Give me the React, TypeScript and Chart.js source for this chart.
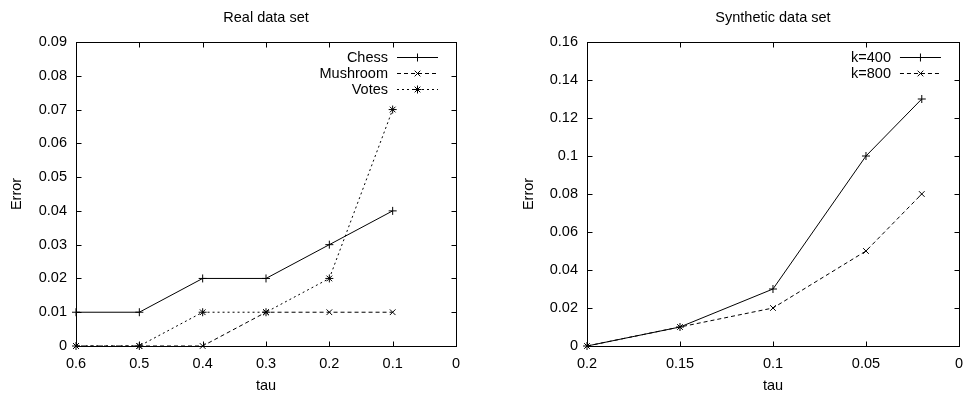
import React, { useEffect, useRef } from "react";
import { Chart, registerables } from "chart.js";
Chart.register(...registerables);

const FONT = "'Liberation Sans', Arial, Helvetica, sans-serif";
const FS = 14.5;

// ---- Real data set ----
const realTitle = "Real data set";
const realTau = [0.6, 0.5, 0.4, 0.3, 0.2, 0.1];
const chessError = [0.01, 0.01, 0.02, 0.02, 0.03, 0.04];
const mushroomError = [0, 0, 0, 0.01, 0.01, 0.01];
const votesError = [0, 0, 0.01, 0.01, 0.02, 0.07];
const realXTicks = [0.6, 0.5, 0.4, 0.3, 0.2, 0.1, 0];
const realXLabels = ["0.6", "0.5", "0.4", "0.3", "0.2", "0.1", "0"];
const realYTicks = [0, 0.01, 0.02, 0.03, 0.04, 0.05, 0.06, 0.07, 0.08, 0.09];
const realYLabels = ["0", "0.01", "0.02", "0.03", "0.04", "0.05", "0.06", "0.07", "0.08", "0.09"];

// ---- Synthetic data set ----
const synTitle = "Synthetic data set";
const synTau = [0.2, 0.15, 0.1, 0.05, 0.02];
const k400Error = [0, 0.01, 0.03, 0.1, 0.13];
const k800Error = [0, 0.01, 0.02, 0.05, 0.08];
const synXTicks = [0.2, 0.15, 0.1, 0.05, 0];
const synXLabels = ["0.2", "0.15", "0.1", "0.05", "0"];
const synYTicks = [0, 0.02, 0.04, 0.06, 0.08, 0.1, 0.12, 0.14, 0.16];
const synYLabels = ["0", "0.02", "0.04", "0.06", "0.08", "0.1", "0.12", "0.14", "0.16"];

const xAxisLabel = "tau";
const yAxisLabel = "Error";

type Series = { label: string; xs: number[]; ys: number[]; dash: number[]; style: string };

function drawMarker(ctx: CanvasRenderingContext2D, style: string, x: number, y: number, r: number) {
  ctx.beginPath();
  if (style === "cross" || style === "star") {
    ctx.moveTo(x - r, y); ctx.lineTo(x + r, y);
    ctx.moveTo(x, y - r); ctx.lineTo(x, y + r);
  }
  if (style === "crossRot" || style === "star") {
    const d = r * Math.SQRT1_2;
    ctx.moveTo(x - d, y - d); ctx.lineTo(x + d, y + d);
    ctx.moveTo(x - d, y + d); ctx.lineTo(x + d, y - d);
  }
  ctx.stroke();
}

const gnuPlugin = {
  id: "gnu",
  afterDraw(chart: any, _args: any, opts: any) {
    const ctx: CanvasRenderingContext2D = chart.ctx;
    const { left, right, top, bottom } = chart.chartArea;
    const L = Math.round(left) + 0.5, R = Math.round(right) + 0.5;
    const T = Math.round(top) + 0.5, B = Math.round(bottom) + 0.5;
    ctx.save();
    ctx.strokeStyle = "#000";
    ctx.lineWidth = 1;
    ctx.setLineDash([]);
    ctx.strokeRect(L, T, R - L, B - T);
    const tl = 5;
    ctx.beginPath();
    const xs = chart.scales.x, ys = chart.scales.y;
    xs.ticks.forEach((t: any) => {
      const px = Math.round(xs.getPixelForValue(t.value)) + 0.5;
      ctx.moveTo(px, B); ctx.lineTo(px, B - tl);
      ctx.moveTo(px, T); ctx.lineTo(px, T + tl);
    });
    ys.ticks.forEach((t: any) => {
      const py = Math.round(ys.getPixelForValue(t.value)) + 0.5;
      ctx.moveTo(L, py); ctx.lineTo(L + tl, py);
      ctx.moveTo(R, py); ctx.lineTo(R - tl, py);
    });
    ctx.stroke();

    ctx.font = `${FS}px ${FONT}`;
    ctx.fillStyle = "#000";
    ctx.textBaseline = "middle";

    // title centred over the plot area
    ctx.textAlign = "center";
    ctx.fillText(opts.title || "", (left + right) / 2, 18);

    // legend (gnuplot style: right-aligned label, then sample)
    const entries: Series[] = opts.entries || [];
    ctx.textAlign = "right";
    entries.forEach((e, i) => {
      const y = Math.round(top + 15 + i * 16) + 0.5;
      ctx.fillText(e.label, right - 68, y);
      const x1 = right - 59, x2 = right - 18;
      ctx.setLineDash(e.dash);
      ctx.beginPath();
      ctx.moveTo(x1, y); ctx.lineTo(x2, y);
      ctx.stroke();
      ctx.setLineDash([]);
      drawMarker(ctx, e.style, (x1 + x2) / 2, y, 4);
    });
    ctx.restore();
  },
};

function buildConfig(p: {
  title: string; series: Series[]; xMin: number; xMax: number; xTicks: number[]; xLabels: string[];
  yMin: number; yMax: number; yTicks: number[]; yLabels: string[]; yWidth: number; yTitlePad: number; rightPad: number;
}): any {
  return {
    type: "line",
    data: {
      datasets: p.series.map((s) => ({
        label: s.label,
        data: s.xs.map((x, i) => ({ x, y: s.ys[i] })),
        borderColor: "#000",
        borderWidth: 1,
        borderDash: s.dash,
        pointStyle: s.style,
        pointRadius: 4,
        pointBorderWidth: 1,
        pointBorderColor: "#000",
        pointBackgroundColor: "#000",
        fill: false,
        tension: 0,
        clip: false,
      })),
    },
    options: {
      responsive: false,
      animation: false,
      devicePixelRatio: 1,
      layout: { padding: { left: 0, right: p.rightPad, top: 42, bottom: 0 } },
      plugins: {
        legend: { display: false },
        tooltip: { enabled: false },
        title: { display: false },
        gnu: { entries: p.series, title: p.title },
      },
      scales: {
        x: {
          type: "linear",
          reverse: true,
          min: p.xMin,
          max: p.xMax,
          afterBuildTicks: (s: any) => { s.ticks = p.xTicks.map((v) => ({ value: v })); },
          afterFit: (s: any) => { s.height = 50; },
          ticks: {
            color: "#000",
            font: { family: FONT, size: FS },
            padding: 9,
            maxRotation: 0,
            autoSkip: false,
            callback: (_v: any, i: number) => p.xLabels[i],
          },
          grid: { display: true, drawOnChartArea: false, drawTicks: false },
          border: { display: false },
          title: {
            display: true,
            text: xAxisLabel,
            color: "#000",
            font: { family: FONT, size: FS },
            padding: { top: 0, bottom: 1 },
          },
        },
        y: {
          type: "linear",
          min: p.yMin,
          max: p.yMax,
          afterBuildTicks: (s: any) => { s.ticks = p.yTicks.map((v) => ({ value: v })); },
          afterFit: (s: any) => { s.width = p.yWidth; },
          ticks: {
            color: "#000",
            font: { family: FONT, size: FS },
            padding: 9,
            autoSkip: false,
            callback: (_v: any, i: number) => p.yLabels[i],
          },
          grid: { display: true, drawOnChartArea: false, drawTicks: false },
          border: { display: false },
          title: {
            display: true,
            text: yAxisLabel,
            color: "#000",
            font: { family: FONT, size: FS },
            padding: { top: p.yTitlePad, bottom: 0 },
          },
        },
      },
    },
    plugins: [gnuPlugin],
  };
}

function Panel({ config, left }: { config: any; left: number }) {
  const ref = useRef<HTMLCanvasElement | null>(null);
  useEffect(() => {
    if (!ref.current) return;
    const chart = new Chart(ref.current, config);
    return () => chart.destroy();
  }, [config]);
  return (
    <div style={{ position: "absolute", left, top: 0, width: 486, height: 396 }}>
      <canvas ref={ref} width={486} height={396} style={{ width: 486, height: 396, display: "block" }} />
    </div>
  );
}

const realConfig = buildConfig({
  title: realTitle,
  series: [
    { label: "Chess", xs: realTau, ys: chessError, dash: [], style: "cross" },
    { label: "Mushroom", xs: realTau, ys: mushroomError, dash: [4, 3], style: "crossRot" },
    { label: "Votes", xs: realTau, ys: votesError, dash: [2, 3], style: "star" },
  ],
  xMin: 0, xMax: 0.6, xTicks: realXTicks, xLabels: realXLabels,
  yMin: 0, yMax: 0.09, yTicks: realYTicks, yLabels: realYLabels,
  yWidth: 76, yTitlePad: 8, rightPad: 30,
});

const synConfig = buildConfig({
  title: synTitle,
  series: [
    { label: "k=400", xs: synTau, ys: k400Error, dash: [], style: "cross" },
    { label: "k=800", xs: synTau, ys: k800Error, dash: [4, 3], style: "crossRot" },
  ],
  xMin: 0, xMax: 0.2, xTicks: synXTicks, xLabels: synXLabels,
  yMin: 0, yMax: 0.16, yTicks: synYTicks, yLabels: synYLabels,
  yWidth: 101, yTitlePad: 34, rightPad: 5,
});

export default function App() {
  return (
    <div style={{ position: "absolute", left: 0, top: 0, width: 972, height: 396, background: "#fff" }}>
      <Panel config={realConfig} left={0} />
      <Panel config={synConfig} left={486} />
    </div>
  );
}
